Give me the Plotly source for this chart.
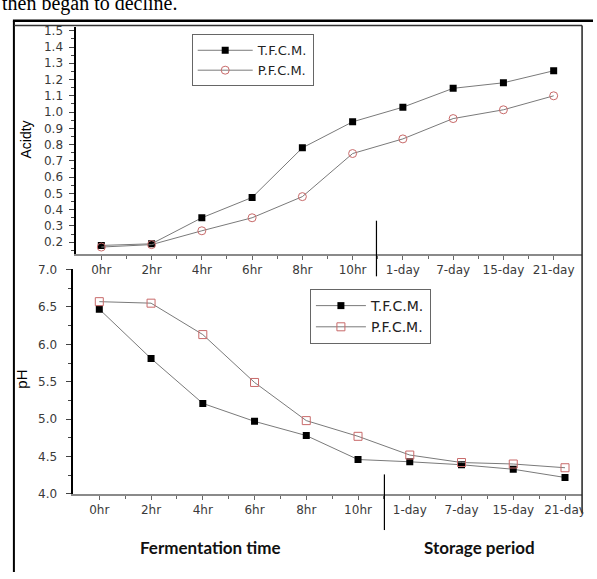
import plotly.graph_objects as go

# ---- data ----
categories = ["0hr", "2hr", "4hr", "6hr", "8hr", "10hr", "1-day", "7-day", "15-day", "21-day"]
acidity_tfcm = [0.18, 0.19, 0.35, 0.475, 0.78, 0.94, 1.03, 1.146, 1.18, 1.254]
acidity_pfcm = [0.17, 0.185, 0.27, 0.35, 0.48, 0.745, 0.835, 0.96, 1.014, 1.10]
ph_tfcm = [6.47, 5.81, 5.21, 4.97, 4.78, 4.46, 4.43, 4.39, 4.33, 4.22]
ph_pfcm = [6.57, 6.55, 6.13, 5.49, 4.98, 4.77, 4.52, 4.42, 4.40, 4.35]
series_names = ["T.F.C.M.", "P.F.C.M."]

W, H = 597, 579
def px(x):
    return x / W
def py(y):
    return 1 - y / H

idx = list(range(len(categories)))
LINE = "#7a7a7a"
PINK = "#c86a6a"
TICKFONT = dict(family="DejaVu Sans", size=12, color="#3a3a3a")

fig = go.Figure()
fig.add_trace(go.Scatter(x=idx, y=acidity_tfcm, name=series_names[0], mode="lines+markers",
                         line=dict(color=LINE, width=1),
                         marker=dict(symbol="square", size=7, color="black"),
                         xaxis="x", yaxis="y", legend="legend"))
fig.add_trace(go.Scatter(x=idx, y=acidity_pfcm, name=series_names[1], mode="lines+markers",
                         line=dict(color=LINE, width=1),
                         marker=dict(symbol="circle-open", size=8, color=PINK, line=dict(width=1)),
                         xaxis="x", yaxis="y", legend="legend"))
fig.add_trace(go.Scatter(x=idx, y=ph_tfcm, name=series_names[0], mode="lines+markers",
                         line=dict(color=LINE, width=1),
                         marker=dict(symbol="square", size=7, color="black"),
                         xaxis="x2", yaxis="y2", legend="legend2"))
fig.add_trace(go.Scatter(x=idx, y=ph_pfcm, name=series_names[1], mode="lines+markers",
                         line=dict(color=LINE, width=1),
                         marker=dict(symbol="square-open", size=8, color=PINK, line=dict(width=1)),
                         xaxis="x2", yaxis="y2", legend="legend2"))

common_x = dict(tickmode="array", tickvals=idx, ticktext=categories, ticks="outside",
                ticklen=4, tickcolor="#666", showline=True, linecolor="#8a8a8a", linewidth=2,
                showgrid=False, zeroline=False, tickfont=TICKFONT,
                minor=dict(tickvals=[i + 0.5 for i in idx[:-1]], ticks="outside", ticklen=3, tickcolor="#666"))

fig.update_layout(
    width=W, height=H, margin=dict(l=0, r=0, t=0, b=0),
    paper_bgcolor="white", plot_bgcolor="white", showlegend=True,
    xaxis=dict(domain=[px(77), px(586)], range=[-0.494, 9.565], anchor="y", **common_x),
    yaxis=dict(domain=[py(253), py(21)], range=[0.128, 1.52], anchor="x",
               tick0=0.2, dtick=0.1, tickformat=".1f", ticks="outside", ticklen=5, tickcolor="#444",
               showline=True, linecolor="black", linewidth=2, showgrid=False, zeroline=False,
               tickfont=TICKFONT, ticklabelstandoff=4,
               minor=dict(dtick=0.05, tick0=0.2, ticks="outside", ticklen=3, tickcolor="#444")),
    xaxis2=dict(domain=[px(73), px(586)], range=[-0.518, 9.33], anchor="y2", **common_x),
    yaxis2=dict(domain=[py(499), py(269)], range=[4.0, 7.0], anchor="x2",
                tick0=4.0, dtick=0.5, tickformat=".1f", ticks="outside", ticklen=5, tickcolor="#444",
                showline=True, linecolor="black", linewidth=2, showgrid=False, zeroline=False,
                tickfont=TICKFONT, ticklabelstandoff=6,
                minor=dict(dtick=0.25, tick0=4.0, ticks="outside", ticklen=3, tickcolor="#444")),
    legend=dict(x=px(193), y=py(28), xanchor="left", yanchor="top",
                bordercolor="#666", borderwidth=1, bgcolor="white",
                font=dict(family="DejaVu Sans", size=13, color="#222"),
                tracegroupgap=0, itemwidth=55),
    legend2=dict(x=px(312), y=py(289), xanchor="left", yanchor="top",
                 bordercolor="#666", borderwidth=1, bgcolor="white",
                 font=dict(family="DejaVu Sans", size=14, color="#222"),
                 tracegroupgap=0, itemwidth=50),
)

shapes = [
    # outer frame
    dict(type="line", xref="paper", yref="paper", x0=px(13), x1=1, y0=py(14), y1=py(14),
         line=dict(color="black", width=2.5)),
    dict(type="line", xref="paper", yref="paper", x0=px(14), x1=px(14), y0=py(14), y1=0,
         line=dict(color="black", width=2)),
    # white cover to the right of the inner frame
    dict(type="rect", xref="paper", yref="paper", x0=px(587), x1=1, y0=py(518), y1=py(16),
         fillcolor="white", line=dict(width=0), layer="above"),
    # inner frame
    dict(type="line", xref="paper", yref="paper", x0=px(14), x1=px(586), y0=py(19), y1=py(19),
         line=dict(color="#333", width=1.5), layer="above"),
    dict(type="line", xref="paper", yref="paper", x0=px(586), x1=px(586), y0=py(19), y1=py(518),
         line=dict(color="#222", width=1.5), layer="above"),
    # separators between fermentation and storage
    dict(type="line", xref="paper", yref="paper", x0=px(379), x1=px(379), y0=py(219), y1=py(276),
         line=dict(color="black", width=1.2), layer="above"),
    dict(type="line", xref="paper", yref="paper", x0=px(387), x1=px(387), y0=py(479), y1=py(536),
         line=dict(color="black", width=1.2), layer="above"),
]
fig.update_layout(shapes=shapes)

annotations = [
    dict(text="then began to decline.", xref="paper", yref="paper", x=0, y=py(-4),
         xanchor="left", yanchor="middle", showarrow=False,
         font=dict(family="Liberation Serif", size=20, color="black")),
    dict(text="Acidty", xref="paper", yref="paper", x=px(26), y=py(136), textangle=-90,
         xanchor="center", yanchor="middle", showarrow=False,
         font=dict(family="Liberation Sans", size=14, color="black")),
    dict(text="pH", xref="paper", yref="paper", x=px(22), y=py(381), textangle=-90,
         xanchor="center", yanchor="middle", showarrow=False,
         font=dict(family="Liberation Sans", size=15, color="black")),
    dict(text="<b>Fermentation time</b>", xref="paper", yref="paper", x=px(212), y=py(554),
         xanchor="center", yanchor="middle", showarrow=False,
         font=dict(family="Lato", size=17, color="#111")),
    dict(text="<b>Storage period</b>", xref="paper", yref="paper", x=px(483), y=py(554),
         xanchor="center", yanchor="middle", showarrow=False,
         font=dict(family="Lato", size=17, color="#111")),
]
fig.update_layout(annotations=annotations)

fig.write_html("out.html", config={"displayModeBar": False},
               post_script="document.body.style.margin='0px';")
